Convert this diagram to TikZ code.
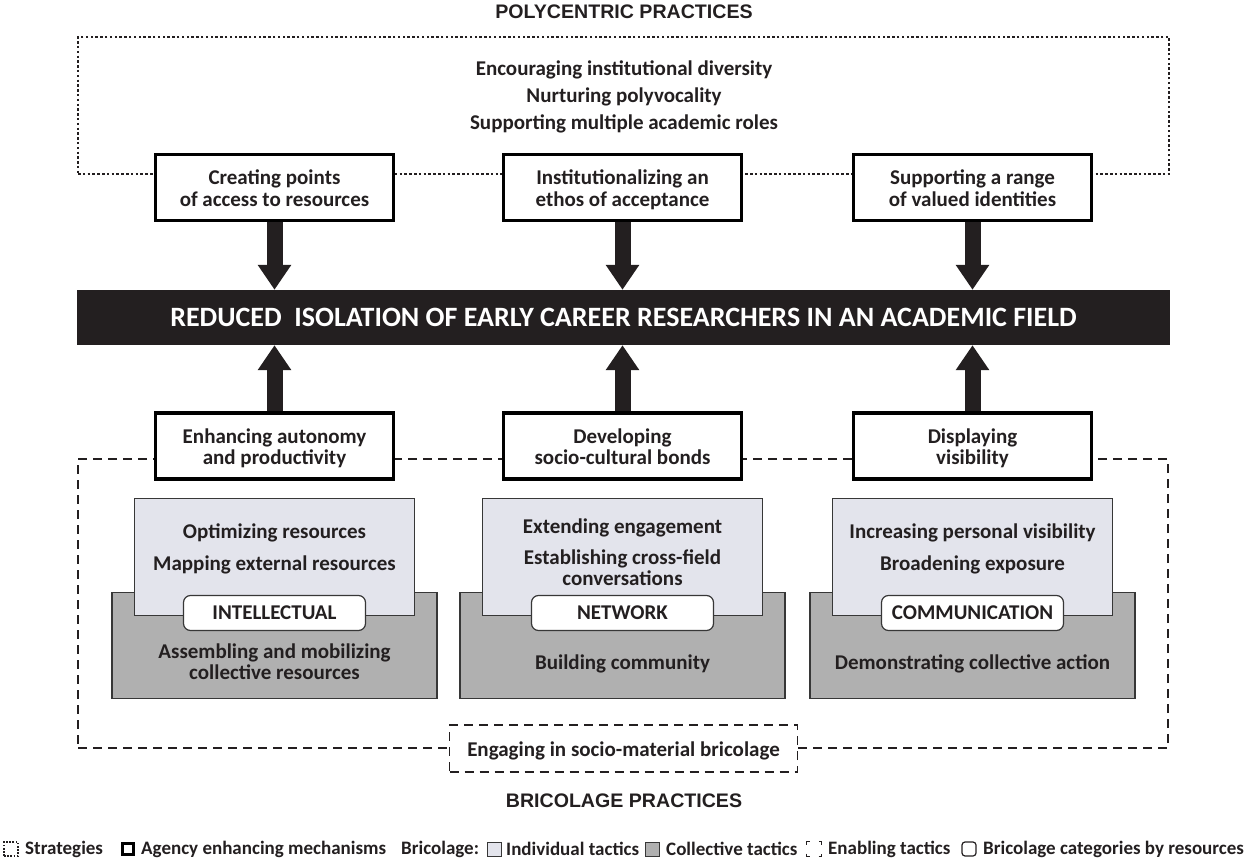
\documentclass[tikz,border=0pt]{standalone}
\usepackage{fontspec}
\setmainfont{Carlito}
\newfontfamily\arialf{Liberation Sans}
\usetikzlibrary{arrows.meta}
\definecolor{txt}{RGB}{35,31,32}
\definecolor{lightt}{RGB}{227,228,236}
\definecolor{darkt}{RGB}{176,176,176}
\definecolor{edge}{RGB}{55,55,55}
\tikzset{
  every node/.style={text=txt, inner sep=0pt, align=center},
  body/.style={font=\bfseries\fontsize{21}{21.5}\selectfont, execute at begin node={\rule{0pt}{23pt}}, execute at end node={\rule[-6.5pt]{0pt}{6.5pt}}},
  title/.style={font=\arialf\bfseries\fontsize{19.6}{22}\selectfont},
  mech/.style={draw=black, line width=3.5pt, fill=white, minimum width=238pt, minimum height=66pt},
  strat/.style={draw=txt, line width=2.5pt, dash pattern=on 2.5pt off 2.3pt},
  enab/.style={draw=txt, line width=1.8pt, dash pattern=on 9pt off 6pt},
  indiv/.style={draw=edge, line width=1.2pt, fill=lightt, minimum width=280pt, minimum height=117pt},
  coll/.style={draw=edge, line width=1.2pt, fill=darkt, minimum width=325pt, minimum height=106pt},
  cat/.style={draw=edge, line width=1.2pt, fill=white, rounded corners=7pt, minimum width=182pt, minimum height=35pt, font=\bfseries\fontsize{21}{22}\selectfont},
  bigarrow/.style={draw=txt, line width=16pt, -{Triangle[width=32pt,length=25pt]}},
  leg/.style={font=\bfseries\fontsize{19}{21}\selectfont, anchor=west},
  legsq/.style={minimum width=14pt, minimum height=14pt}
}
\begin{document}
\begin{tikzpicture}[x=1pt,y=-1pt]
\useasboundingbox (0,0) rectangle (1250,861);
% titles
\node[title] (ptitle) at (624,12) {POLYCENTRIC PRACTICES};
\node[title] (btitle) at (624,801) {BRICOLAGE PRACTICES};
% strategies frame
\node[strat, minimum width=1091pt, minimum height=137pt] (strat) at (623.5,105.5) {};
\node[body] (st1) at (624,67) {Encouraging institutional diversity};
\node[body] (st2) at (624,94) {Nurturing polyvocality};
\node[body] (st3) at (624,121) {Supporting multiple academic roles};
% enabling frame
\node[enab, minimum width=1090pt, minimum height=289pt] (enab) at (623,603.5) {};
\node[enab, fill=white, minimum width=348pt, minimum height=47pt, body] (engage) at (623.5,748.5) {Engaging in socio-material bricolage};
% banner
\node[fill=txt, minimum width=1093pt, minimum height=55pt, text=white, font=\bfseries\fontsize{28}{30}\selectfont] (banner) at (623.5,317.5) {REDUCED\ \ ISOLATION OF EARLY CAREER RESEARCHERS IN AN ACADEMIC FIELD};
% top mechanisms
\node[mech] (t1) at (274.5,187.5) {};
\node[mech] (t2) at (622.5,187.5) {};
\node[mech] (t3) at (972.5,187.5) {};
\node[body] (t1l) at (274.5,191.5) {Creating points\\of access to resources};
\node[body] (t2l) at (622.5,191.5) {Institutionalizing an\\ethos of acceptance};
\node[body] (t3l) at (972.5,191.5) {Supporting a range\\of valued identities};
% bottom mechanisms
\node[mech] (b1) at (274.5,446) {};
\node[mech] (b2) at (622.5,446) {};
\node[mech] (b3) at (972.5,446) {};
\node[body] (b1l) at (274.5,450) {Enhancing autonomy\\and productivity};
\node[body] (b2l) at (622.5,450) {Developing\\socio-cultural bonds};
\node[body] (b3l) at (972.5,450) {Displaying\\visibility};
% arrows
\draw[bigarrow] (t1.south) -- (banner.north -| t1.south);
\draw[bigarrow] (t2.south) -- (banner.north -| t2.south);
\draw[bigarrow] (t3.south) -- (banner.north -| t3.south);
\draw[bigarrow] (b1.north) -- (banner.south -| b1.north);
\draw[bigarrow] (b2.north) -- (banner.south -| b2.north);
\draw[bigarrow] (b3.north) -- (banner.south -| b3.north);
% bricolage stacks
\node[coll] (c1) at (274.5,645.5) {};
\node[coll] (c2) at (622.5,645.5) {};
\node[coll] (c3) at (972.5,645.5) {};
\node[indiv] (i1) at (274.5,557) {};
\node[indiv] (i2) at (622.5,557) {};
\node[indiv] (i3) at (972.5,557) {};
\node[cat] (k1) at (274.5,613) {INTELLECTUAL};
\node[cat] (k2) at (622.5,613) {NETWORK};
\node[cat] (k3) at (972.5,613) {COMMUNICATION};
% individual tactics texts
\node[body] (i1a) at (274.5,530) {Optimizing resources};
\node[body] (i1b) at (274.5,562) {Mapping external resources};
\node[body] (i2a) at (622.5,525) {Extending engagement};
\node[body] (i2b) at (622.5,571) {Establishing cross-field\\conversations};
\node[body] (i3a) at (972.5,530) {Increasing personal visibility};
\node[body] (i3b) at (972.5,562) {Broadening exposure};
% collective tactics texts
\node[body] (c1a) at (274.5,665) {Assembling and mobilizing\\collective resources};
\node[body] (c2a) at (622.5,661) {Building community};
\node[body] (c3a) at (972.5,661) {Demonstrating collective action};
% legend
\node[legsq, draw=txt, line width=1.6pt, dash pattern=on 1.6pt off 1.6pt] (l1) at (11,849) {};
\node[leg] (l1t) at (25,849) {Strategies};
\node[legsq, draw=black, line width=3.6pt, minimum width=11pt, minimum height=11pt] (l2) at (128,849) {};
\node[leg] (l2t) at (141,849) {Agency enhancing mechanisms};
\node[leg] (l3t) at (401,849) {Bricolage:};
\node[legsq, draw=edge, line width=0.8pt, fill=lightt] (l3) at (494,849) {};
\node[leg] (l3u) at (506,849) {Individual tactics};
\node[legsq, draw=edge, line width=0.8pt, fill=darkt] (l4) at (652,849) {};
\node[leg] (l4t) at (666,849) {Collective tactics};
\node[legsq, minimum width=15pt, minimum height=15pt, draw=txt, line width=1.2pt, dash pattern=on 6pt off 9pt, dash phase=3pt] (l5) at (814,849) {};
\node[leg] (l5t) at (828,849) {Enabling tactics};
\node[legsq, draw=txt, line width=1.2pt, rounded corners=3pt] (l6) at (969,849) {};
\node[leg] (l6t) at (983,849) {Bricolage categories by resources};
\end{tikzpicture}
\end{document}
